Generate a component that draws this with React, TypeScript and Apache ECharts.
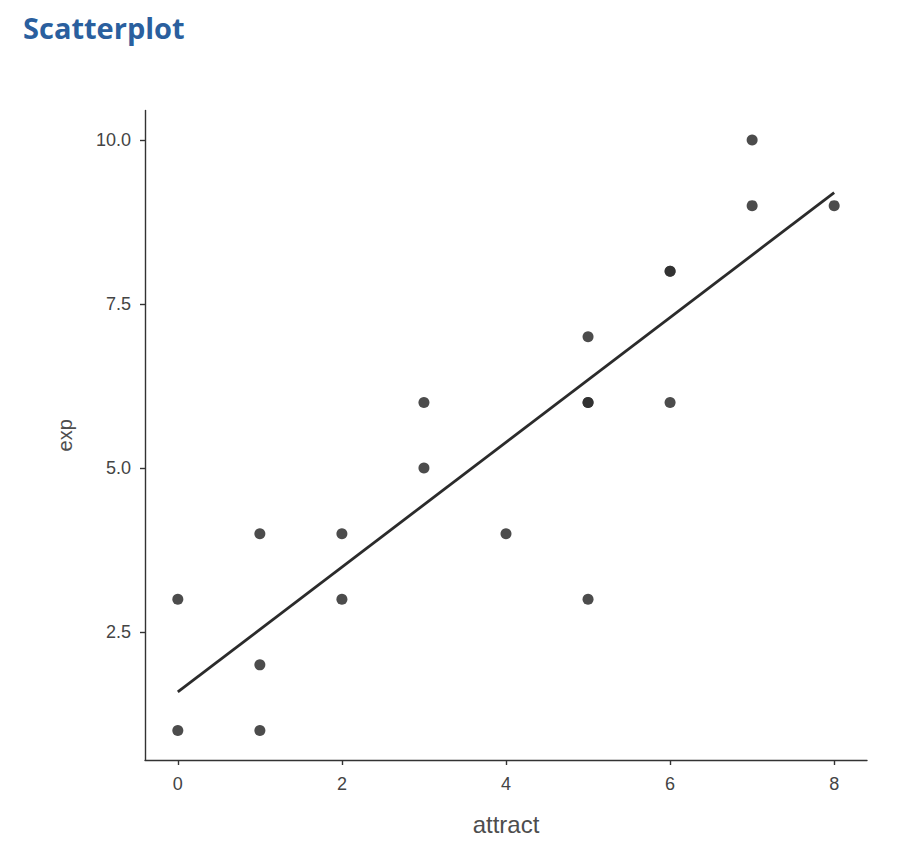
import React, { useEffect, useRef } from "react";
import * as echarts from "echarts";

const attract = [0, 0, 1, 1, 1, 2, 2, 3, 3, 4, 5, 5, 5, 5, 6, 6, 6, 7, 7, 8];
const expVals = [1, 3, 1, 2, 4, 3, 4, 5, 6, 4, 3, 6, 6, 7, 6, 8, 8, 9, 10, 9];
const xTicks = [0, 2, 4, 6, 8];
const yTicks = [2.5, 5.0, 7.5, 10.0];

function fitLine(xs: number[], ys: number[]) {
  const n = xs.length;
  const mx = xs.reduce((a, b) => a + b, 0) / n;
  const my = ys.reduce((a, b) => a + b, 0) / n;
  let sxy = 0, sxx = 0;
  for (let i = 0; i < n; i++) {
    sxy += (xs[i] - mx) * (ys[i] - my);
    sxx += (xs[i] - mx) ** 2;
  }
  const b = sxy / sxx;
  const a = my - b * mx;
  const x0 = Math.min(...xs), x1 = Math.max(...xs);
  return [[x0, a + b * x0], [x1, a + b * x1]];
}

export default function App() {
  const ref = useRef<HTMLDivElement>(null);
  useEffect(() => {
    const chart = echarts.init(ref.current!, null, { renderer: "svg" });
    const pts = attract.map((x, i) => [x, expVals[i]]);
    const line = fitLine(attract, expVals);
    chart.setOption({
      animation: false,
      backgroundColor: "#fff",
      title: {
        text: "Scatterplot",
        left: 23,
        top: 13,
        padding: 0,
        textStyle: { fontFamily: "Open Sans", fontWeight: "bold", fontSize: 29, color: "#2a5f9e" },
      },
      grid: { left: 145, right: 36, top: 110.5, bottom: 92 },
      xAxis: {
        type: "value",
        min: -0.4,
        max: 8.4,
        name: "attract",
        nameLocation: "middle",
        nameGap: 52,
        nameTextStyle: { fontFamily: "Liberation Sans", fontSize: 24, color: "#4d4d4d" },
        axisLine: { show: true, onZero: false, lineStyle: { color: "#333", width: 1.4 } },
        axisTick: { show: true, length: 5, lineStyle: { color: "#333", width: 1.4 }, customValues: xTicks },
        axisLabel: { fontFamily: "Liberation Sans", fontSize: 18, color: "#444", margin: 15, customValues: xTicks },
        splitLine: { show: false },
      },
      yAxis: {
        type: "value",
        min: 0.55,
        max: 10.45,
        name: "exp",
        nameLocation: "middle",
        nameGap: 70,
        nameRotate: 90,
        nameTextStyle: { fontFamily: "Liberation Sans", fontSize: 20, color: "#4d4d4d" },
        axisLine: { show: true, onZero: false, lineStyle: { color: "#333", width: 1.4 } },
        axisTick: { show: true, length: 5, lineStyle: { color: "#333", width: 1.4 }, customValues: yTicks },
        axisLabel: {
          fontFamily: "Liberation Sans",
          fontSize: 18,
          color: "#444",
          margin: 14,
          customValues: yTicks,
          formatter: (v: number) => v.toFixed(1),
        },
        splitLine: { show: false },
      },
      series: [
        {
          type: "line",
          data: line,
          symbol: "none",
          lineStyle: { color: "#2b2b2b", width: 2.8 },
          z: 2,
        },
        {
          type: "scatter",
          data: pts,
          symbolSize: 11,
          itemStyle: { color: "#2e2e2e", opacity: 0.86 },
          z: 3,
        },
      ],
    });
    return () => chart.dispose();
  }, []);
  return <div ref={ref} style={{ position: "fixed", left: 0, top: 0, width: 903, height: 852 }} />;
}
